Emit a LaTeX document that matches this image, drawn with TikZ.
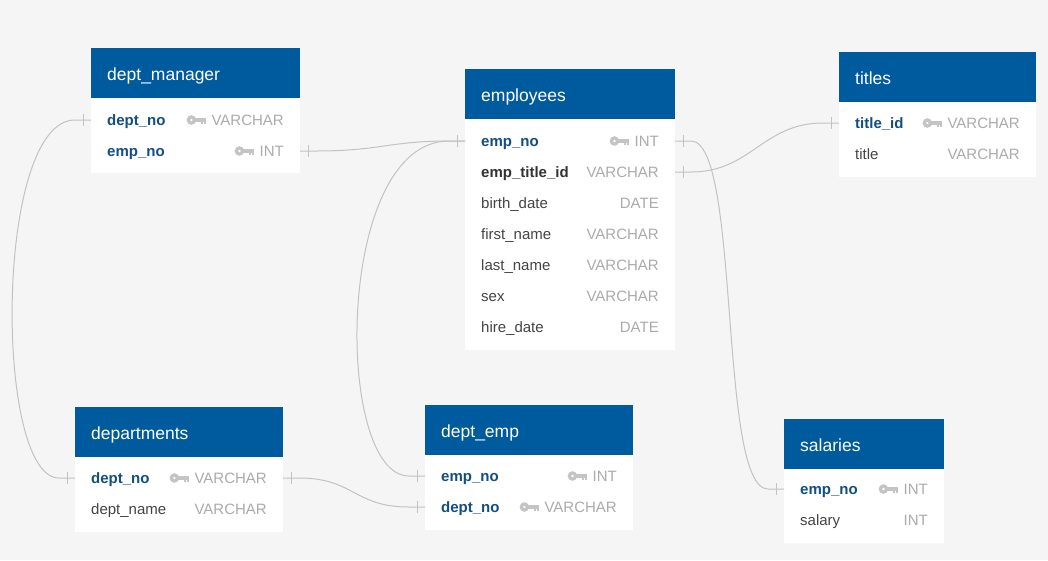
\documentclass[tikz,border=0pt]{standalone}
\usepackage{fontspec}
\setmainfont{Liberation Sans}
\usetikzlibrary{calc}
\definecolor{bgc}{HTML}{F5F5F5}
\definecolor{headc}{HTML}{005A9E}
\definecolor{keyname}{HTML}{124E84}
\definecolor{darkname}{HTML}{333333}
\definecolor{plainname}{HTML}{444444}
\definecolor{typec}{HTML}{ABABAB}
\definecolor{keyc}{HTML}{C4C4C4}
\definecolor{linec}{HTML}{C2C2C2}
\tikzset{
  tbody/.style={fill=white, draw=none, inner sep=0pt, outer sep=0pt},
  thead/.style={fill=headc, draw=none, inner sep=0pt, outer sep=0pt, minimum height=50pt},
  ttitle/.style={text=white, inner sep=0pt, font=\fontsize{17.5}{20}\selectfont},
  pkname/.style={text=keyname, inner sep=0pt, font=\fontsize{15}{18}\selectfont\bfseries},
  fkname/.style={text=darkname, inner sep=0pt, font=\fontsize{15}{18}\selectfont\bfseries},
  plname/.style={text=plainname, inner sep=0pt, font=\fontsize{15}{18}\selectfont},
  typetext/.style={text=typec, inner sep=0pt, font=\fontsize{15}{18}\selectfont},
  conn/.style={draw=linec, line width=1pt},
  pkkey/.pic={
    \fill[keyc, even odd rule] (-15,0) circle (4.8) (-15,0) circle (1.6);
    \fill[keyc] (-11.5,-2) rectangle (0,1.6);
    \fill[keyc] (-5.6,1.6) rectangle (-3.2,4.2);
    \fill[keyc] (-2.3,1.6) rectangle (0,3.6);
  }
}
% table: name, left, right, top, bottom, title
\newcommand{\ertable}[6]{%
  \node[tbody, minimum width={#3pt-#2pt}, minimum height={#5pt-#4pt}, anchor=north west] (#1) at (#2,#4) {};
  \node[thead, minimum width={#3pt-#2pt}, anchor=north west] (#1-h) at (#2,#4) {};
  \node[ttitle, anchor=base west] (#1-t) at ($(#1-h.west)+(16,7)$) {#6};
}
% row: table, id, y, name style, name, type, key
\newcommand{\errow}[7]{%
  \coordinate (#2-w) at (#1.west |- 0,#3);
  \coordinate (#2-e) at (#1.east |- 0,#3);
  \node[#4, anchor=base west] (#2-n) at ($(#2-w)+(16,5)$) {#5};
  \node[typetext, anchor=base east] (#2-t) at ($(#2-e)+(-16,5)$) {#6};
  \ifnum#7=1 \pic at ($(#2-t.west |- #2-w)+(-5,0)$) {pkkey};\fi
}
\newcommand{\lefttick}[1]{\draw[conn] ($(#1)+(-8,-6)$) -- ($(#1)+(-8,6)$);}
\newcommand{\righttick}[1]{\draw[conn] ($(#1)+(8,-6)$) -- ($(#1)+(8,6)$);}
\begin{document}
\begin{tikzpicture}[x=1pt,y=-1pt]
\fill[bgc] (0,0) rectangle (1048,560);
\useasboundingbox (0,0) rectangle (1048,560);

\ertable{dm}{91}{300}{48}{173}{dept\_manager}
\errow{dm}{dm-dept}{120}{pkname}{dept\_no}{VARCHAR}{1}
\errow{dm}{dm-emp}{151}{pkname}{emp\_no}{INT}{1}

\ertable{em}{465}{675}{69}{350}{employees}
\errow{em}{em-emp}{141}{pkname}{emp\_no}{INT}{1}
\errow{em}{em-title}{172}{fkname}{emp\_title\_id}{VARCHAR}{0}
\errow{em}{em-birth}{203}{plname}{birth\_date}{DATE}{0}
\errow{em}{em-first}{234}{plname}{first\_name}{VARCHAR}{0}
\errow{em}{em-last}{265}{plname}{last\_name}{VARCHAR}{0}
\errow{em}{em-sex}{296}{plname}{sex}{VARCHAR}{0}
\errow{em}{em-hire}{327}{plname}{hire\_date}{DATE}{0}

\ertable{ti}{839}{1036}{52}{177}{titles}
\errow{ti}{ti-id}{123}{pkname}{title\_id}{VARCHAR}{1}
\errow{ti}{ti-title}{154}{plname}{title}{VARCHAR}{0}

\ertable{dp}{75}{283}{407}{532}{departments}
\errow{dp}{dp-dept}{478}{pkname}{dept\_no}{VARCHAR}{1}
\errow{dp}{dp-name}{509}{plname}{dept\_name}{VARCHAR}{0}

\ertable{de}{425}{633}{405}{530}{dept\_emp}
\errow{de}{de-emp}{476}{pkname}{emp\_no}{INT}{1}
\errow{de}{de-dept}{507}{pkname}{dept\_no}{VARCHAR}{1}

\ertable{sa}{784}{944}{419}{543}{salaries}
\errow{sa}{sa-emp}{489}{pkname}{emp\_no}{INT}{1}
\errow{sa}{sa-sal}{520}{plname}{salary}{INT}{0}

% connectors
\draw[conn] (dm-dept-w) -- ++(-16,0) .. controls +(-81,0) and +(-65,0) .. ($(dp-dept-w)+(-16,0)$) -- (dp-dept-w);
\draw[conn] (dm-emp-e) -- ++(16,0) .. controls +(64,0) and +(-60,0) .. ($(em-emp-w)+(-16,0)$) -- (em-emp-w);
\draw[conn] (em-emp-w) -- ++(-16,0) .. controls +(-115,0) and +(-75,0) .. ($(de-emp-w)+(-16,0)$) -- (de-emp-w);
\draw[conn] (em-title-e) -- ++(16,0) .. controls +(60,0) and +(-60,0) .. ($(ti-id-w)+(-16,0)$) -- (ti-id-w);
\draw[conn] (em-emp-e) -- ++(16,0) .. controls +(50,0) and +(-50,0) .. ($(sa-emp-w)+(-16,0)$) -- (sa-emp-w);
\draw[conn] (dp-dept-e) -- ++(16,0) .. controls +(55,0) and +(-55,0) .. ($(de-dept-w)+(-16,0)$) -- (de-dept-w);

\lefttick{dm-dept-w}
\lefttick{dp-dept-w}
\righttick{dm-emp-e}
\lefttick{em-emp-w}
\lefttick{de-emp-w}
\righttick{em-title-e}
\lefttick{ti-id-w}
\righttick{em-emp-e}
\lefttick{sa-emp-w}
\righttick{dp-dept-e}
\lefttick{de-dept-w}
\end{tikzpicture}
\end{document}
